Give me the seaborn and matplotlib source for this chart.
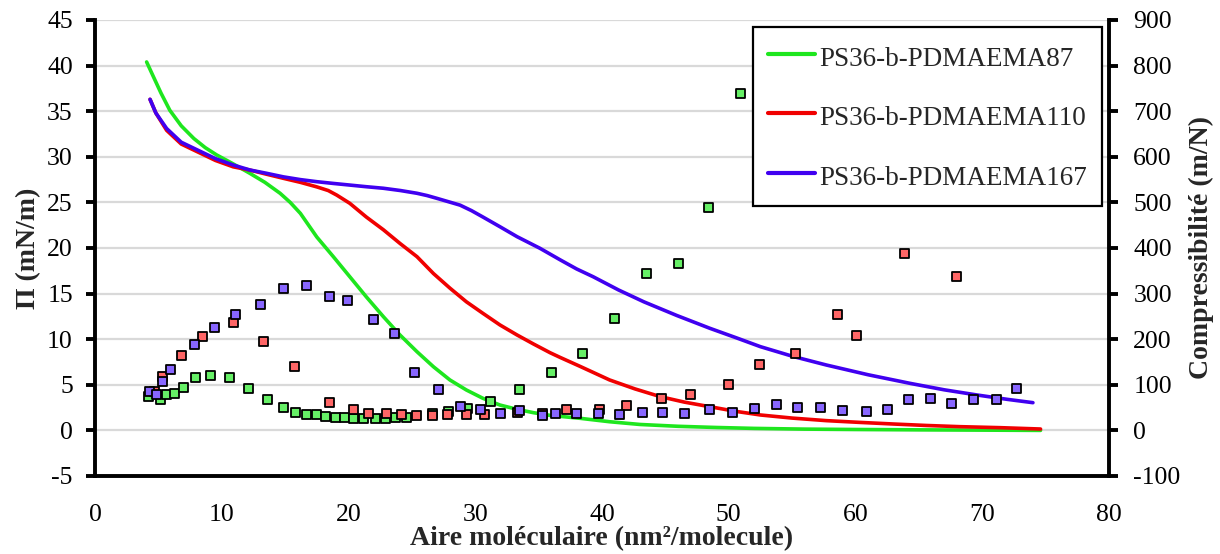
import numpy as np
import pandas as pd
import matplotlib
matplotlib.use('Agg')
import matplotlib.pyplot as plt
import seaborn as sns

names = ['PS36-b-PDMAEMA87', 'PS36-b-PDMAEMA110', 'PS36-b-PDMAEMA167']

# isotherms (surface pressure, mN/m)
x_87 = [4.07, 4.6, 5.2, 5.9, 6.8, 7.8, 8.7, 9.6, 10.8, 12.2, 13.4, 14.6, 15.4, 16.2, 17.5,
        18.8, 20.1, 21.4, 22.75, 24.06, 25.4, 26.7, 28.0, 29.3, 30.6, 31.95, 33.3, 34.6, 35.9,
        38.3, 40.6, 43.0, 46.0, 49.0, 52.0, 56.0, 60.0, 65.0, 70.0, 74.6]
pi_87 = [40.4, 38.8, 37.0, 35.1, 33.4, 32.0, 31.0, 30.2, 29.3, 28.2, 27.2, 26.0, 25.0, 23.8, 21.2,
         19.05, 16.85, 14.65, 12.47, 10.46, 8.63, 6.98, 5.53, 4.43, 3.52, 2.78, 2.31, 1.94, 1.65,
         1.32, 0.95, 0.65, 0.45, 0.32, 0.22, 0.14, 0.1, 0.06, 0.03, 0.0]

x_110 = [4.34, 4.8, 5.65, 6.8, 8.3, 9.5, 10.9, 12.2, 13.5, 14.86, 16.2, 17.5, 18.4, 19.07, 20.1,
         21.4, 22.75, 24.06, 25.4, 26.7, 28.0, 29.3, 30.6, 31.95, 33.3, 34.6, 35.9, 36.7, 38.3,
         40.6, 42.6, 44.6, 46.5, 48.5, 50.5, 52.5, 55.0, 57.7, 60.3, 63.0, 65.6, 68.2, 71.4, 74.6]
pi_110 = [36.3, 34.8, 32.9, 31.4, 30.4, 29.6, 28.9, 28.55, 28.1, 27.64, 27.2, 26.7, 26.3, 25.8, 24.9,
          23.4, 22.0, 20.5, 19.05, 17.2, 15.6, 14.1, 12.84, 11.56, 10.46, 9.47, 8.52, 8.0, 7.0,
          5.53, 4.55, 3.7, 3.1, 2.6, 2.1, 1.69, 1.35, 1.07, 0.88, 0.7, 0.54, 0.41, 0.3, 0.15]

x_167 = [4.34, 4.8, 5.65, 6.8, 8.3, 9.5, 10.9, 12.23, 13.5, 14.86, 16.2, 17.5, 18.8, 20.1, 21.4,
         22.75, 24.1, 25.4, 26.2, 26.96, 28.8, 29.7, 30.6, 31.95, 33.3, 35.1, 36.7, 38.0, 39.3,
         41.3, 43.3, 45.9, 48.5, 50.5, 52.5, 55.1, 57.7, 61.0, 64.3, 67.0, 69.6, 72.0, 74.0]
pi_167 = [36.3, 34.8, 33.1, 31.6, 30.6, 29.8, 29.1, 28.55, 28.2, 27.8, 27.5, 27.27, 27.08, 26.9, 26.72,
          26.55, 26.3, 26.0, 25.75, 25.45, 24.7, 24.1, 23.4, 22.33, 21.24, 19.97, 18.7, 17.7, 16.85,
          15.4, 14.1, 12.6, 11.2, 10.2, 9.18, 8.1, 7.17, 6.1, 5.16, 4.45, 3.88, 3.4, 3.04]

# compressibility (m/N)
cx_87 = [4.2, 5.2, 5.65, 6.3, 7.0, 7.9, 9.1, 10.6, 12.1, 13.6, 14.9, 15.8, 16.7, 17.5, 18.2,
         19.0, 19.7, 20.4, 21.2, 22.1, 22.9, 23.7, 24.6, 26.6, 27.9, 29.4, 31.2, 33.5, 36.0,
         38.5, 41.0, 43.5, 46.0, 48.4, 50.9]
c_87 = [74, 67, 79, 80, 94, 116, 121, 115, 92, 68, 50, 40, 35, 35, 30,
        28, 28, 27, 27, 25, 26, 28, 28, 36, 41, 49, 64, 90, 126,
        168, 245, 344, 366, 489, 738]

cx_110 = [4.7, 5.3, 6.8, 8.5, 10.9, 13.3, 15.75, 18.5, 20.4, 21.6, 23.0, 24.2, 25.4, 26.6, 27.8,
          29.3, 30.7, 33.3, 35.3, 37.2, 39.8, 41.9, 44.7, 47.0, 50.0, 52.4, 55.3, 58.6, 60.1,
          63.9, 68.0]
c_110 = [85, 118, 165, 207, 236, 195, 141, 62, 45, 37, 37, 34, 33, 32, 34,
         35, 35, 39, 36, 45, 45, 55, 70, 79, 100, 144, 169, 255, 208,
         387, 337]

cx_167 = [4.3, 4.84, 5.34, 5.97, 7.87, 9.44, 11.1, 13.07, 14.9, 16.7, 18.5, 19.9, 22.0, 23.6, 25.2,
          27.1, 28.8, 30.4, 32.0, 33.5, 35.3, 36.3, 38.0, 39.7, 41.4, 43.2, 44.8, 46.5, 48.5,
          50.3, 52.0, 53.75, 55.4, 57.2, 59.0, 60.9, 62.5, 64.2, 65.9, 67.6, 69.3, 71.1, 72.7]
c_167 = [85, 78, 107, 133, 189, 226, 255, 277, 311, 318, 294, 285, 244, 212, 127,
         89, 52, 45, 37, 43, 32, 36, 37, 36, 34, 39, 40, 37, 46,
         39, 48, 56, 50, 51, 44, 41, 46, 67, 70, 58, 67, 68, 92]

line_colors = ['#1ee61e', '#f00000', '#4000f0']
marker_colors = ['#66f066', '#ff6666', '#8866ff']

iso = pd.concat([
    pd.DataFrame({'area': x_87, 'pi': pi_87, 'sample': names[0]}),
    pd.DataFrame({'area': x_110, 'pi': pi_110, 'sample': names[1]}),
    pd.DataFrame({'area': x_167, 'pi': pi_167, 'sample': names[2]}),
])
comp = pd.concat([
    pd.DataFrame({'area': cx_87, 'c': c_87, 'sample': names[0]}),
    pd.DataFrame({'area': cx_110, 'c': c_110, 'sample': names[1]}),
    pd.DataFrame({'area': cx_167, 'c': c_167, 'sample': names[2]}),
])

sns.set_style('white')
plt.rcParams['font.family'] = ['Liberation Serif', 'DejaVu Serif']
plt.rcParams['axes.unicode_minus'] = False

fig = plt.figure(figsize=(12.2, 5.54), dpi=100)
ax = fig.add_axes([0.0779, 0.1408, 0.8311, 0.8231])

sns.lineplot(data=iso, x='area', y='pi', hue='sample', palette=dict(zip(names, line_colors)),
             linewidth=2.6, ax=ax, legend=False, sort=True, estimator=None)

ax2 = ax.twinx()
sns.scatterplot(data=comp, x='area', y='c', hue='sample', palette=dict(zip(names, marker_colors)),
                marker='s', s=42, edgecolor='black', linewidth=1.3, ax=ax2, legend=False)

ax.set_xlim(0, 80)
ax.set_ylim(-5, 45)
ax2.set_ylim(-100, 900)
ax.set_xticks(np.arange(0, 81, 10))
ax.set_yticks(np.arange(-5, 46, 5))
ax2.set_yticks(np.arange(-100, 901, 100))

for y in range(0, 46, 5):
    ax.axhline(y, color='#d9d9d9', linewidth=1.6, zorder=0)

for a in (ax, ax2):
    for side in ['left', 'right', 'bottom', 'top']:
        a.spines[side].set_visible(False)
ax.spines['left'].set_visible(True)
ax.spines['bottom'].set_visible(True)
ax2.spines['right'].set_visible(True)
for a, side in [(ax, 'left'), (ax, 'bottom'), (ax2, 'right')]:
    a.spines[side].set_linewidth(2.8)
    a.spines[side].set_color('black')

ax.tick_params(axis='both', direction='out', length=6.5, width=2.8, labelsize=18.5, colors='black', pad=9.5)
ax.tick_params(axis='x', pad=14)
ax2.tick_params(axis='y', direction='out', length=6.5, width=2.8, labelsize=18.5, colors='black', pad=11)

ax.set_xlabel('Aire moléculaire (nm²/molecule)', fontsize=20, fontweight='bold', labelpad=0)
ax.set_ylabel('Π (mN/m)', fontsize=20, fontweight='bold', labelpad=4)
ax2.set_ylabel('Compressibilité (m/N)', fontsize=20, fontweight='bold', labelpad=6)

handles = [plt.Line2D([], [], color=c, linewidth=3) for c in line_colors]
leg = ax2.legend(handles, names, loc='upper right', bbox_to_anchor=(0.993, 0.985),
                 fontsize=19.5, frameon=True, fancybox=False, edgecolor='black', framealpha=1,
                 handlelength=1.75, handleheight=1.3, handletextpad=0.15, labelspacing=1.1,
                 borderpad=0.55, borderaxespad=0)
leg.get_frame().set_linewidth(1.6)

fig.savefig('out.png', dpi=100)
